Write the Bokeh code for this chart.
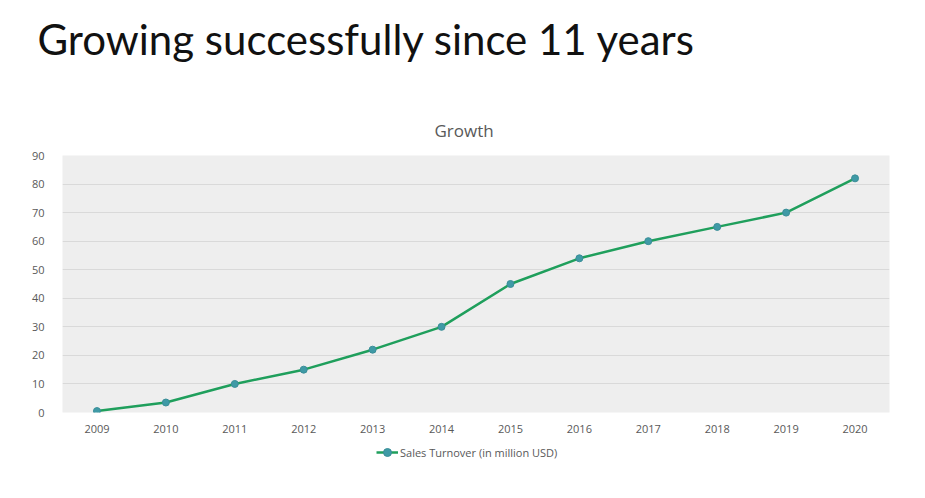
from bokeh.plotting import figure
from bokeh.models import Legend, LegendItem, Range1d, FactorRange, Title, ColumnDataSource
from bokeh.layouts import column
from bokeh.embed import file_html
from bokeh.resources import INLINE

years = ["2009", "2010", "2011", "2012", "2013", "2014", "2015", "2016", "2017", "2018", "2019", "2020"]
sales = [0.5, 3.5, 10, 15, 22, 30, 45, 54, 60, 65, 70, 82]
y_ticks = [0, 10, 20, 30, 40, 50, 60, 70, 80, 90]
series_name = "Sales Turnover (in million USD)"
page_title = "Growing successfully since 11 years"
chart_title = "Growth"

LINE_C = "#1f9f5c"
MARK_FILL = "#3f9aa6"
MARK_LINE = "#3a8e98"

W = 925
H0, H1, H2 = 80, 360, 58


def blank(height, **kw):
    f = figure(width=W, height=height, output_backend="svg", toolbar_location=None,
               x_axis_location=None, y_axis_location=None,
               x_range=Range1d(0, 1), y_range=Range1d(0, 1), **kw)
    f.outline_line_color = None
    f.grid.grid_line_color = None
    f.border_fill_color = "white"
    f.background_fill_color = "white"
    return f


# page heading strip
p0 = blank(H0, min_border_left=62, min_border_right=36, min_border_top=0, min_border_bottom=0)
p0.title.text = page_title
p0.title.align = "left"
p0.title.offset = -25
p0.title.text_font = "Lato"
p0.title.text_font_size = "42px"
p0.title.text_font_style = "normal"
p0.title.text_color = "#111111"
p0.title.standoff = 23

# main chart
p = figure(width=W, height=H1, output_backend="svg", toolbar_location=None,
           x_range=FactorRange(*years, range_padding=0), y_range=Range1d(0, 90),
           min_border_left=62, min_border_right=36, min_border_top=75, min_border_bottom=28)
p.border_fill_color = "white"
p.outline_line_color = None
p.background_fill_color = "#eeeeee"

p.title.text = chart_title
p.title.align = "left"
p.title.offset = 372
p.title.text_font = "Open Sans"
p.title.text_font_size = "17px"
p.title.text_font_style = "normal"
p.title.text_color = "#595959"
p.title.standoff = 28

p.xgrid.grid_line_color = None
p.ygrid.grid_line_color = "#d9d9d9"
p.ygrid.grid_line_width = 1
p.yaxis.ticker = y_ticks

for ax in (p.xaxis, p.yaxis):
    ax.axis_line_color = None
    ax.major_tick_line_color = None
    ax.minor_tick_line_color = None
    ax.major_label_text_color = "#595959"
    ax.major_label_text_font = "Open Sans"
    ax.major_label_text_font_size = "11px"
p.xaxis.major_label_standoff = 6
p.yaxis.major_label_standoff = 12

p.line(x=years, y=sales, line_color=LINE_C, line_width=2.5)
p.scatter(x=years, y=sales, size=7, fill_color=MARK_FILL, line_color=MARK_LINE)

# legend strip below the chart (proxy glyphs carry no visible data)
p2 = blank(H2, min_border=0)
proxy = ColumnDataSource(data=dict(x=[float("nan")], y=[float("nan")]))
l2 = p2.line(x="x", y="y", source=proxy, line_color=LINE_C, line_width=2.5)
s2 = p2.scatter(x="x", y="y", source=proxy, size=7, fill_color=MARK_FILL, line_color=MARK_LINE)
legend = Legend(items=[LegendItem(label=series_name, renderers=[l2, s2], index=0)],
                orientation="horizontal", location=(314, 36),
                label_text_font="Open Sans", label_text_font_size="11px",
                label_text_color="#595959", border_line_color=None,
                background_fill_alpha=0, glyph_width=22, label_standoff=2,
                padding=0, margin=0)
p2.add_layout(legend)

layout = column(p0, p, p2, spacing=0)
open("out.html", "w").write(file_html(layout, INLINE))
